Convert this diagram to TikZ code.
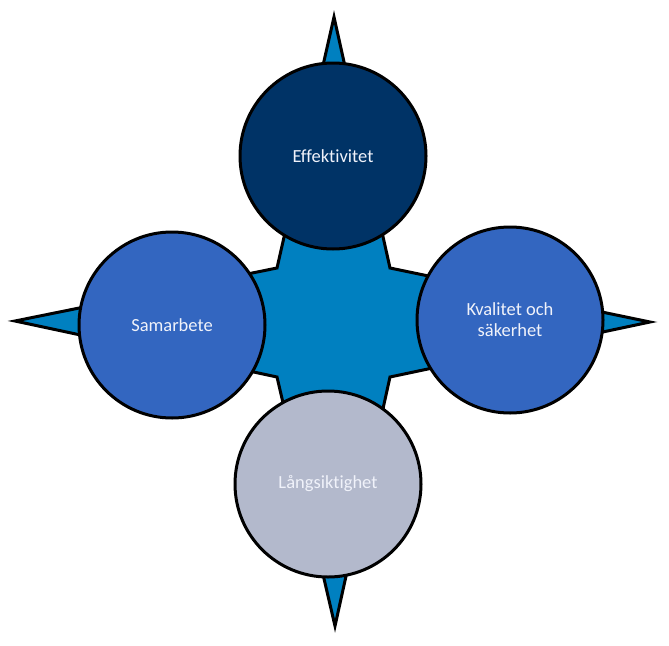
\documentclass[tikz,border=0pt]{standalone}
\usepackage{fontspec}
\setmainfont[Ligatures={NoCommon}]{Carlito}
\definecolor{starblue}{RGB}{0,128,192}
\definecolor{navy}{RGB}{0,51,102}
\definecolor{midblue}{RGB}{51,102,192}
\definecolor{greyblue}{RGB}{179,185,204}
\definecolor{txt}{RGB}{240,242,250}
\begin{document}
\begin{tikzpicture}[x=1pt,y=-1pt,
  outline/.style={draw=black,line width=3pt,line join=miter},
  bubble/.style={circle,outline,minimum size=186pt,inner sep=0pt,text=txt,
    font=\fontsize{18.5}{21}\selectfont,align=center}]
\useasboundingbox (0,0) rectangle (669,645);
\coordinate (tN) at (334,17);
\coordinate (tE) at (650,322);
\coordinate (tS) at (335,626);
\coordinate (tW) at (15,321);
\coordinate (iNE) at (390,268);
\coordinate (iSE) at (390,377);
\coordinate (iSW) at (277,377);
\coordinate (iNW) at (277,268);
\filldraw[outline,fill=starblue] (tN) -- (iNE) -- (tE) -- (iSE) -- (tS) -- (iSW) -- (tW) -- (iNW) -- cycle;
\node[bubble,fill=navy] (eff) at (333,156) {Effektivitet};
\node[bubble,fill=midblue] (sam) at (172,325) {Samarbete};
\node[bubble,fill=midblue] (kva) at (510,320) {Kvalitet och\\säkerhet};
\node[bubble,fill=greyblue] (lang) at (328,484) {Långsiktighet};
\end{tikzpicture}
\end{document}
